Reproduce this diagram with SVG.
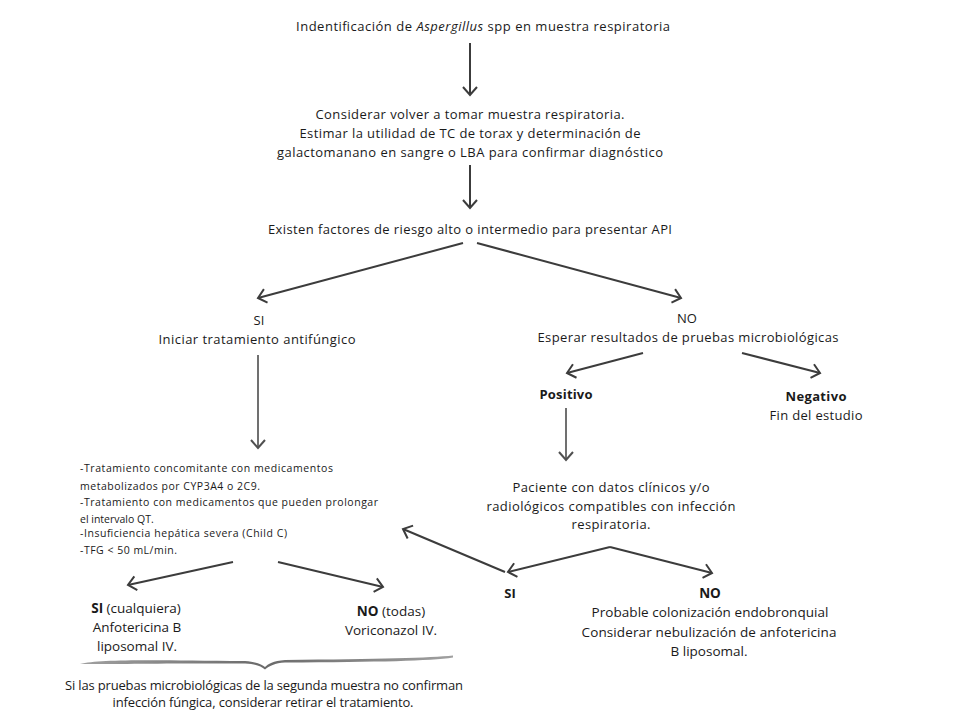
<svg xmlns="http://www.w3.org/2000/svg" width="960" height="720" viewBox="0 0 960 720">
<style>
.t{font-family:"Open Sans","Liberation Sans",sans-serif;font-size:13px;fill:#1a1a1a;text-anchor:middle}
.s{font-size:10.5px;text-anchor:start}
.b{font-weight:bold}
.l{font-size:13.5px}
.c{fill:none;stroke:#3c3c3c;stroke-width:2}
.g{fill:none;stroke:#707070;stroke-width:2}
</style>
<defs>
<marker id="ah" markerUnits="userSpaceOnUse" markerWidth="20" markerHeight="20" viewBox="-10 -10 20 20" refX="0" refY="0" orient="auto">
<path d="M-8,-7 L0,0 L-8,7" fill="none" stroke="#3c3c3c" stroke-width="2"/>
</marker>
<marker id="ahg" markerUnits="userSpaceOnUse" markerWidth="20" markerHeight="20" viewBox="-10 -10 20 20" refX="0" refY="0" orient="auto">
<path d="M-8,-7 L0,0 L-8,7" fill="none" stroke="#505050" stroke-width="2"/>
</marker>
<linearGradient id="br" x1="0" y1="0" x2="1" y2="0">
<stop offset="0" stop-color="#a0a0a0"/>
<stop offset="0.5" stop-color="#6a6a6a"/>
<stop offset="1" stop-color="#a0a0a0"/>
</linearGradient>
</defs>
<rect width="960" height="720" fill="#ffffff"/>
<g id="connectors">
<line class="c" x1="470" y1="43" x2="470" y2="95" marker-end="url(#ah)"/>
<line class="c" x1="470" y1="165" x2="470" y2="208" marker-end="url(#ah)"/>
<line class="c" x1="463" y1="243" x2="258" y2="298" marker-end="url(#ah)"/>
<line class="c" x1="477" y1="243" x2="681" y2="298" marker-end="url(#ah)"/>
<line class="g" x1="258" y1="355" x2="258" y2="448" marker-end="url(#ahg)"/>
<line class="c" x1="643" y1="353" x2="567" y2="373" marker-end="url(#ah)"/>
<line class="c" x1="742" y1="353" x2="820" y2="373" marker-end="url(#ah)"/>
<line class="g" x1="566" y1="408" x2="566" y2="460" marker-end="url(#ahg)"/>
<line class="c" x1="233" y1="562" x2="128" y2="585" marker-end="url(#ah)"/>
<line class="c" x1="278" y1="562" x2="383" y2="587" marker-end="url(#ah)"/>
<line class="c" x1="610" y1="547" x2="508" y2="572" marker-end="url(#ah)"/>
<line class="c" x1="610" y1="547" x2="712" y2="573" marker-end="url(#ah)"/>
<line class="c" x1="505" y1="572" x2="403" y2="529" marker-end="url(#ah)"/>
<path id="brace" d="M80,664 C100,659 150,660 245,661 C257,662 262,665 265,667 C268,664 273,661 285,660 C380,659 430,658 453,655.5 L453,657.5 C430,661 380,662 285,662.5 C275,663 269,666 265,669.5 C261,666 256,664 245,663.5 C150,663 100,664.5 80,664 Z" fill="url(#br)"/>
</g>
<g id="n1"><text class="t" x="483" y="31" textLength="374">Indentificación de <tspan font-style="italic">Aspergillus</tspan> spp en muestra respiratoria</text></g>
<g id="n2">
<text class="t" x="470" y="119" textLength="309">Considerar volver a tomar muestra respiratoria.</text>
<text class="t" x="470" y="138" textLength="341">Estimar la utilidad de TC de torax y determinación de</text>
<text class="t" x="470" y="157" textLength="386">galactomanano en sangre o LBA para confirmar diagnóstico</text>
</g>
<g id="n3"><text class="t" x="470" y="234" textLength="404">Existen factores de riesgo alto o intermedio para presentar API</text></g>
<g id="n4">
<text class="t" x="259" y="325">SI</text>
<text class="t" x="257" y="344" textLength="197">Iniciar tratamiento antifúngico</text>
</g>
<g id="n5">
<text class="t" x="687" y="323">NO</text>
<text class="t" x="688" y="342" textLength="301">Esperar resultados de pruebas microbiológicas</text>
</g>
<g id="n6"><text class="t b" x="566" y="399" textLength="53">Positivo</text></g>
<g id="n7">
<text class="t b" x="816" y="401" textLength="61">Negativo</text>
<text class="t" x="816" y="420" textLength="93">Fin del estudio</text>
</g>
<g id="n8">
<text class="t s" x="80" y="472" textLength="253">-Tratamiento concomitante con medicamentos</text>
<text class="t s" x="80" y="489.5" textLength="180">metabolizados por CYP3A4 o 2C9.</text>
<text class="t s" x="80" y="506" textLength="298">-Tratamiento con medicamentos que pueden prolongar</text>
<text class="t s" x="80" y="523">el intervalo QT.</text>
<text class="t s" x="80" y="537" textLength="207">-Insuficiencia hepática severa (Child C)</text>
<text class="t s" x="80" y="553.5" textLength="97">-TFG &lt; 50 mL/min.</text>
</g>
<g id="n9">
<text class="t" x="611" y="492" textLength="197">Paciente con datos clínicos y/o</text>
<text class="t" x="611" y="511" textLength="249">radiológicos compatibles con infección</text>
<text class="t" x="611" y="529" textLength="79">respiratoria.</text>
</g>
<g id="n10">
<text class="t l" x="136" y="613"><tspan font-weight="bold">SI</tspan> (cualquiera)</text>
<text class="t l" x="137" y="632">Anfotericina B</text>
<text class="t l" x="137" y="651">liposomal IV.</text>
</g>
<g id="n11">
<text class="t l" x="391" y="616"><tspan font-weight="bold">NO</tspan> (todas)</text>
<text class="t l" x="391" y="635">Voriconazol IV.</text>
</g>
<g id="n12"><text class="t b" x="510" y="598">SI</text></g>
<g id="n13">
<text class="t b l" x="710" y="598">NO</text>
<text class="t l" x="710" y="617" textLength="237">Probable colonización endobronquial</text>
<text class="t l" x="709" y="637" textLength="255">Considerar nebulización de anfotericina</text>
<text class="t l" x="709" y="656">B liposomal.</text>
</g>
<g id="n14">
<text class="t" x="264" y="690" font-size="11.5" textLength="398">Si las pruebas microbiológicas de la segunda muestra no confirman</text>
<text class="t" x="263" y="707" font-size="11.5" textLength="301">infección fúngica, considerar retirar el tratamiento.</text>
</g>
</svg>
